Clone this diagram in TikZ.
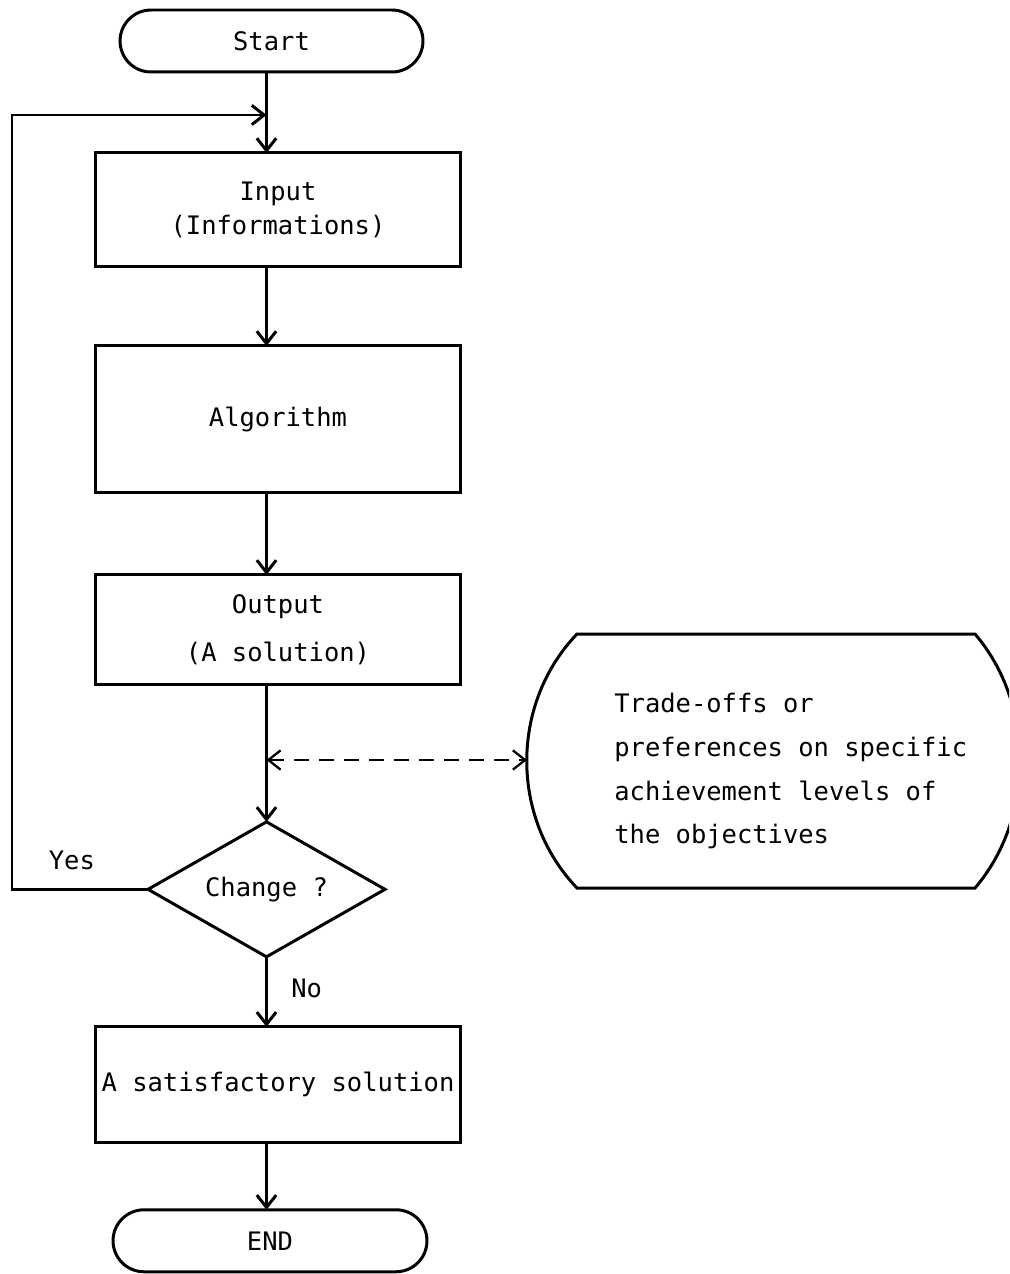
\documentclass[tikz,border=0pt]{standalone}
\usepackage{fontspec}
\setmonofont{DejaVu Sans Mono}
\usetikzlibrary{positioning,shapes.geometric,shapes.misc,arrows.meta}

\begin{document}
\begin{tikzpicture}[x=0.02cm, y=-0.02cm, line width=1.7pt,
        font=\ttfamily\fontsize{14.5}{19}\selectfont,
        >={Straight Barb[length=7pt,width=11pt]},
        term/.style = {draw, rounded rectangle, minimum height=1.24cm, inner sep=0pt, outer sep=0pt},
        box/.style = {draw, rectangle, minimum width=7.32cm, align=center, inner sep=0pt, outer sep=0pt},
        choice/.style = {draw, diamond, aspect=1.75, minimum width=4.74cm, minimum height=2.7cm,
            inner sep=0pt, outer sep=0pt}]
    \useasboundingbox (0,0) rectangle (1009,1274);
    \clip (0,0) rectangle (1009,1274);

    \node[term, minimum width=6.06cm] (1) at (271.5,41)                        {Start};
    \node[box, minimum height=2.28cm] (2) [below=1.62cm of 1, xshift=0.13cm]   {Input\\(Informations)};
    \node[box, minimum height=2.94cm] (3) [below=1.58cm of 2]                  {Algorithm};
    \node[box, minimum height=2.2cm]  (4) [below=1.64cm of 3]                  {Output\\[8pt](A solution)};
    \node[choice]                     (5) [below=2.74cm of 4, xshift=-0.23cm]  {Change ?};
    \node[box, minimum height=2.32cm] (6) [below=1.4cm of 5, xshift=0.23cm]    {A satisfactory solution};
    \node[term, minimum width=6.28cm] (7) [below=1.34cm of 6, xshift=-0.16cm]  {END};
    \node[align=left, anchor=west, font=\ttfamily\fontsize{14.5}{25}\selectfont] (8) at (607,771)
        {Trade-offs or\\preferences on specific\\achievement levels of\\the objectives};

    \coordinate (merge)  at (5.north |- 0,115);
    \coordinate (corner) at (12,115);
    \coordinate (tap)    at (5.north |- 0,760);
    \coordinate (bulge)  at (527,760);

    \draw (577,634) -- (975,634) .. controls (1035,704) and (1035,818) .. (975,888)
        -- (577,888) .. controls (510,818) and (510,704) .. cycle;

    \draw[->] (1.south -| 5.north) to (2.north -| 5.north);
    \draw[->] (2.south -| 5.north) to (3.north -| 5.north);
    \draw[->] (3.south -| 5.north) to (4.north -| 5.north);
    \draw[->] (4.south -| 5.north) to (5.north);
    \draw[->] (5.south) to node[pos=0.45, right=0.35cm] {No} (6.north -| 5.north);
    \draw[->] (6.south -| 5.north) to (7.north -| 5.north);
    \draw[->] (5.west) -| node[pos=0.28, above=0.25cm] {Yes} (corner) -- (merge);
    \draw[<->, dashed, line width=1.3pt, dash pattern=on 0.3cm off 0.2cm] (tap) to (bulge);
\end{tikzpicture}
\end{document}
